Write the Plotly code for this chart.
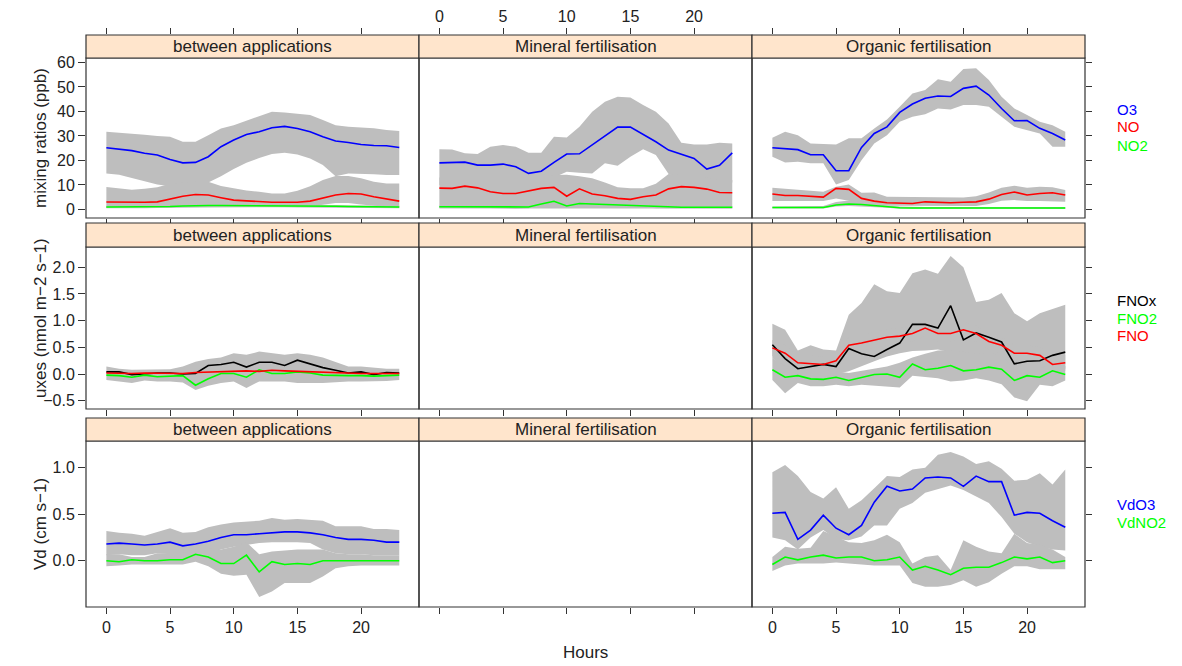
import plotly.graph_objects as go

# ---------------- data ----------------
hours = list(range(24))
panel_titles = ["between applications", "Mineral fertilisation", "Organic fertilisation"]
x_ticks = [0, 5, 10, 15, 20]

# Row 1: mixing ratios (ppb)
O3_BA = [25.2,24.6,24.0,22.9,22.2,20.4,19.0,19.2,21.5,25.6,28.3,30.6,31.7,33.3,33.9,33.0,31.7,29.7,27.9,27.3,26.5,26.1,26.0,25.3]
O3_BA_hi = [31.7,31.4,31.0,30.5,30.0,29.7,27.6,27.6,30.3,33.0,34.4,36.2,38.1,39.9,39.6,39.2,38.5,36.5,34.4,33.7,33.5,33.1,32.4,32.0]
O3_BA_lo = [14.7,14.2,12.8,11.5,10.2,9.5,9.5,10.0,11.0,13.5,16.5,19.0,21.0,22.6,23.1,22.4,20.8,18.1,13.5,14.7,14.7,14.4,14.0,14.1]
NO_BA = [3.0,2.9,2.7,2.9,3.1,4.2,5.4,6.1,5.9,4.8,3.8,3.5,3.1,2.9,2.9,2.9,3.4,4.8,5.9,6.5,6.3,5.2,4.4,3.4]
NO_BA_hi = [9.2,8.5,8.0,8.4,9.0,10.5,11.0,11.3,11.3,9.6,8.6,7.7,7.2,6.5,6.5,7.6,9.5,12.0,13.6,13.6,12.7,11.3,10.6,10.6]
NO_BA_lo = [0.6,0.6,0.6,0.6,0.7,0.8,1.0,1.0,1.0,1.0,1.0,1.0,1.0,1.0,1.0,1.0,1.2,2.0,2.6,2.6,2.0,1.5,1.0,0.8]
NO2_BA = [1.0,1.0,1.0,1.0,1.0,1.2,1.4,1.6,1.6,1.6,1.6,1.6,1.5,1.5,1.4,1.3,1.3,1.3,1.3,1.2,1.2,1.1,1.0,1.0]
NO2_BA_hi = [1.5,1.5,1.5,1.5,1.5,1.7,1.9,2.1,2.1,2.1,2.1,2.1,2.0,2.0,1.9,1.8,1.8,1.8,1.8,1.7,1.7,1.6,1.5,1.5]
NO2_BA_lo = [0.5,0.5,0.5,0.5,0.5,0.7,0.9,1.1,1.1,1.1,1.1,1.1,1.0,1.0,0.9,0.8,0.8,0.8,0.8,0.7,0.7,0.6,0.5,0.5]

O3_MF = [19.0,19.3,19.3,18.1,18.1,18.5,17.4,14.7,15.6,19.2,22.6,22.7,26.3,29.9,33.6,33.6,30.7,27.6,24.2,22.4,20.8,16.5,18.0,23.1]
O3_MF_hi = [24.6,24.5,22.9,22.6,25.6,26.3,25.6,23.1,23.1,29.7,29.4,33.7,39.9,43.9,46.0,45.7,42.6,39.9,35.1,27.2,26.5,26.5,27.2,26.9]
O3_MF_lo = [10.0,10.0,10.0,11.0,11.0,11.0,10.0,9.0,10.0,13.0,15.4,15.0,14.7,18.8,17.8,21.5,24.6,22.2,14.5,12.0,12.0,10.0,10.0,11.0]
NO_MF = [8.7,8.6,9.5,8.8,7.2,6.5,6.5,7.6,8.6,9.0,5.4,8.4,6.3,5.6,4.5,4.1,5.2,5.9,8.4,9.3,9.0,8.3,6.9,6.8]
NO_MF_hi = [13.0,13.0,13.0,13.0,13.0,13.0,13.0,13.0,13.0,14.0,14.2,13.5,12.7,11.0,9.0,8.6,8.6,10.5,14.5,14.0,14.0,13.0,12.0,12.0]
NO_MF_lo = [0.4,0.4,0.4,0.4,0.4,0.4,0.4,0.4,0.4,0.4,0.4,0.4,0.4,0.4,0.4,0.4,0.4,0.4,0.4,0.4,0.4,0.4,0.4,0.4]
NO2_MF = [1.1,1.1,1.1,1.1,1.1,1.1,0.8,1.0,2.2,3.3,1.4,2.4,2.2,2.0,1.6,1.6,1.4,1.0,0.9,0.9,0.9,0.9,0.9,0.9]
NO2_MF_hi = [1.6,1.6,1.6,1.6,1.6,1.6,1.3,1.5,2.7,3.8,1.9,2.9,2.7,2.5,2.1,2.1,1.9,1.5,1.4,1.4,1.4,1.4,1.4,1.4]
NO2_MF_lo = [0.6,0.6,0.6,0.6,0.6,0.6,0.3,0.5,1.7,2.8,0.9,1.9,1.7,1.5,1.1,1.1,0.9,0.5,0.4,0.4,0.4,0.4,0.4,0.4]

O3_OF = [25.2,24.8,24.4,22.3,22.3,15.8,15.8,25.3,31.0,33.7,39.6,43.0,45.4,46.3,46.1,49.4,50.3,46.7,41.2,36.2,36.3,33.1,31.0,28.3]
O3_OF_hi = [29.3,31.7,30.3,26.9,26.7,26.5,29.0,29.0,33.0,36.7,41.9,47.3,48.7,53.1,52.1,57.3,57.6,52.8,46.0,41.2,38.5,35.8,34.4,31.7]
O3_OF_lo = [21.5,19.2,19.5,18.8,18.8,10.2,12.0,20.1,26.9,30.3,35.8,37.8,38.8,41.2,40.8,42.6,42.6,41.9,37.8,33.7,32.4,31.0,25.6,25.6]
NO_OF = [6.3,5.7,5.7,5.2,5.0,8.6,8.2,4.5,3.4,2.7,2.4,2.4,3.1,2.9,2.7,2.9,3.1,4.2,6.1,7.1,5.9,6.5,6.8,5.9]
NO_OF_hi = [8.8,8.4,8.2,7.6,7.2,9.3,10.2,6.8,6.9,5.2,5.2,4.9,4.9,4.9,4.9,4.9,5.4,6.9,8.8,9.7,8.8,9.3,9.0,7.9]
NO_OF_lo = [3.4,3.4,3.4,3.4,3.4,4.5,3.5,2.4,1.8,1.5,1.4,1.4,1.4,1.4,1.4,1.4,1.4,2.2,3.5,3.8,3.4,3.4,3.4,3.1]
NO2_OF = [0.8,0.8,0.8,0.8,0.8,1.8,2.2,2.0,1.5,1.1,0.7,0.6,0.6,0.6,0.6,0.6,0.6,0.6,0.6,0.6,0.6,0.6,0.6,0.6]
NO2_OF_hi = [1.2,1.2,1.2,1.2,1.4,3.0,3.6,3.0,2.2,1.6,1.2,1.0,1.0,1.0,1.0,1.0,1.0,1.0,1.0,1.0,1.0,1.0,1.0,1.0]
NO2_OF_lo = [0.4,0.4,0.4,0.4,0.4,1.2,1.4,1.3,1.0,0.7,0.3,0.2,0.2,0.2,0.2,0.2,0.2,0.2,0.2,0.2,0.2,0.2,0.2,0.2]

# Row 2: fluxes (nmol m-2 s-1)
FNOx_BA = [0.04,0.04,-0.01,0.01,0.02,0.02,0.0,0.01,0.16,0.18,0.22,0.13,0.22,0.22,0.16,0.26,0.19,0.12,0.07,0.02,0.04,-0.01,0.03,0.02]
FNO_BA = [0.02,0.01,0.01,0.02,0.02,0.02,0.01,0.03,0.04,0.05,0.05,0.06,0.05,0.07,0.06,0.05,0.04,0.03,0.02,0.02,0.01,0.01,0.01,0.01]
FNO2_BA = [-0.02,-0.03,-0.06,-0.02,-0.05,-0.04,-0.03,-0.21,-0.09,0.01,0.01,-0.06,0.08,0.01,0.01,0.04,0.02,-0.02,-0.03,-0.03,-0.03,-0.04,-0.03,-0.02]
FLUX_BA_hi = [0.14,0.10,0.08,0.08,0.09,0.09,0.14,0.23,0.28,0.31,0.39,0.36,0.42,0.39,0.36,0.39,0.36,0.31,0.23,0.14,0.14,0.12,0.10,0.10]
FLUX_BA_lo = [-0.11,-0.14,-0.17,-0.12,-0.14,-0.14,-0.16,-0.30,-0.22,-0.17,-0.14,-0.26,-0.14,-0.14,-0.14,-0.17,-0.17,-0.17,-0.16,-0.14,-0.14,-0.14,-0.13,-0.11]

FNOx_OF = [0.55,0.29,0.10,0.14,0.18,0.14,0.48,0.38,0.33,0.46,0.58,0.93,0.93,0.86,1.28,0.64,0.77,0.69,0.60,0.19,0.24,0.25,0.35,0.41]
FNOx_OF_hi = [0.94,0.83,0.44,0.54,0.46,0.44,1.11,1.33,1.68,1.55,1.52,1.89,1.96,1.88,2.21,2.00,1.35,1.39,1.52,1.14,0.99,1.14,1.22,1.30]
FNOx_OF_lo = [0.30,0.10,-0.05,0.0,0.0,0.0,0.05,0.14,0.24,0.33,0.39,0.43,0.44,0.46,0.40,0.35,0.30,0.30,0.25,0.0,0.0,0.0,0.10,0.10]
FNO_OF = [0.49,0.39,0.21,0.19,0.18,0.25,0.54,0.58,0.63,0.69,0.71,0.76,0.86,0.76,0.76,0.83,0.76,0.61,0.54,0.39,0.39,0.35,0.18,0.21]
FNO_OF_hi = [0.64,0.54,0.36,0.34,0.33,0.40,0.69,0.73,0.78,0.84,0.86,0.91,1.01,0.91,0.91,0.98,0.91,0.76,0.69,0.54,0.54,0.50,0.33,0.36]
FNO_OF_lo = [0.34,0.24,0.06,0.04,0.03,0.10,0.39,0.43,0.48,0.54,0.56,0.61,0.71,0.61,0.61,0.68,0.61,0.46,0.39,0.24,0.24,0.20,0.03,0.06]
FNO2_OF = [0.08,-0.06,-0.03,-0.09,-0.10,-0.06,-0.12,-0.06,-0.01,0.0,-0.06,0.19,0.08,0.11,0.16,0.06,0.08,0.13,0.09,-0.12,-0.03,-0.06,0.06,-0.01]
FNO2_OF_hi = [0.30,0.15,0.10,0.05,0.05,0.05,0.02,0.06,0.10,0.14,0.21,0.31,0.38,0.44,0.45,0.42,0.38,0.40,0.35,0.10,0.10,0.10,0.20,0.15]
FNO2_OF_lo = [-0.11,-0.36,-0.17,-0.23,-0.23,-0.20,-0.23,-0.20,-0.21,-0.23,-0.25,-0.03,-0.05,-0.08,-0.14,-0.12,-0.08,-0.12,-0.19,-0.44,-0.51,-0.20,-0.23,-0.12]

# Row 3: deposition velocities (cm s-1)
VdO3_BA = [0.18,0.19,0.18,0.17,0.18,0.20,0.16,0.18,0.21,0.25,0.28,0.28,0.29,0.30,0.31,0.31,0.30,0.28,0.25,0.23,0.23,0.22,0.20,0.20]
VdO3_BA_hi = [0.32,0.30,0.29,0.27,0.31,0.35,0.30,0.31,0.36,0.39,0.41,0.42,0.43,0.46,0.44,0.45,0.44,0.43,0.37,0.37,0.37,0.34,0.34,0.33]
VdO3_BA_lo = [0.06,0.07,0.06,0.06,0.08,0.07,0.06,0.05,0.08,0.12,0.15,0.17,0.19,0.20,0.20,0.20,0.19,0.12,0.08,0.07,0.07,0.06,0.06,0.06]
VdNO2_BA = [0.0,-0.01,0.01,0.0,0.0,0.01,0.01,0.07,0.04,-0.03,-0.03,0.06,-0.12,-0.01,-0.04,-0.03,-0.04,0.0,0.0,0.0,0.0,0.0,0.0,0.0]
VdNO2_BA_hi = [0.07,0.07,0.04,0.04,0.08,0.08,0.08,0.13,0.13,0.12,0.15,0.20,0.07,0.10,0.11,0.12,0.12,0.12,0.08,0.07,0.07,0.06,0.06,0.06]
VdNO2_BA_lo = [-0.06,-0.05,-0.04,-0.04,-0.04,-0.04,-0.04,-0.01,-0.06,-0.14,-0.16,-0.15,-0.39,-0.33,-0.24,-0.24,-0.24,-0.17,-0.08,-0.06,-0.05,-0.05,-0.05,-0.05]

VdO3_OF = [0.51,0.52,0.23,0.33,0.49,0.35,0.28,0.38,0.63,0.80,0.75,0.77,0.89,0.90,0.89,0.80,0.91,0.85,0.85,0.49,0.52,0.51,0.43,0.36]
VdO3_OF_hi = [0.95,1.03,0.91,0.74,0.67,0.79,0.56,0.65,0.78,0.91,0.90,0.98,1.00,1.14,1.17,1.12,1.04,1.07,0.99,0.86,0.87,0.94,0.82,0.98]
VdO3_OF_lo = [0.25,0.22,0.12,0.25,0.33,0.23,0.22,0.26,0.38,0.38,0.56,0.62,0.73,0.77,0.81,0.76,0.69,0.62,0.47,0.29,0.20,0.15,0.12,0.11]
VdNO2_OF = [-0.04,0.04,0.01,0.04,0.06,0.03,0.04,0.04,0.0,0.01,0.04,-0.10,-0.06,-0.10,-0.15,-0.08,-0.07,-0.07,-0.02,0.04,0.02,0.04,-0.02,0.0]
VdNO2_OF_hi = [0.04,0.15,0.13,0.14,0.32,0.26,0.20,0.19,0.22,0.28,0.20,-0.03,0.04,0.06,-0.10,0.22,0.15,0.10,0.08,0.29,0.19,0.17,0.12,0.04]
VdNO2_OF_lo = [-0.11,-0.05,-0.03,-0.03,-0.03,-0.02,-0.03,-0.04,-0.05,-0.05,-0.05,-0.24,-0.28,-0.28,-0.26,-0.21,-0.28,-0.23,-0.14,-0.06,-0.06,-0.09,-0.09,-0.09]

row1_ticks = [0, 10, 20, 30, 40, 50, 60]
row2_ticks = [-0.5, 0.0, 0.5, 1.0, 1.5, 2.0]
row2_labels = ["\u22120.5", "0.0", "0.5", "1.0", "1.5", "2.0"]
row3_ticks = [-0.5, 0.0, 0.5, 1.0]
row3_labels = ["", "0.0", "0.5", "1.0"]

# ---------------- layout geometry (pixels) ----------------
W, H = 1182, 666
def px(x): return x / W
def py(y): return 1 - y / H

cols = [(86, 419), (419, 752), (752, 1085)]
# (plot top, plot bottom, strip top)
rows = [(58, 218, 35), (247, 409, 223), (441, 607, 418)]
XR = [-1.6, 24.55]
row_ranges = [[-3.5, 61.8], [-0.655, 2.38], [-0.497, 1.287]]

BLUE, RED, GREEN, BLACK, GREY = "#0000FF", "#FF0000", "#00FF00", "#000000", "#BEBEBE"
AX = "#333333"
FONT = "Liberation Sans, Arial, sans-serif"

fig = go.Figure()

def ax_id(r, c):
    k = r * 3 + c + 1
    return ("" if k == 1 else str(k))

def band(r, c, hi, lo):
    k = ax_id(r, c)
    fig.add_trace(go.Scatter(x=hours + hours[::-1], y=hi + lo[::-1], fill="toself",
                             fillcolor=GREY, line=dict(width=0), mode="lines",
                             hoverinfo="skip", showlegend=False,
                             xaxis="x" + k, yaxis="y" + k))

def line(r, c, y, color):
    k = ax_id(r, c)
    fig.add_trace(go.Scatter(x=hours, y=y, mode="lines", line=dict(color=color, width=1.6),
                             showlegend=False, xaxis="x" + k, yaxis="y" + k))

def dummy(r, c):
    k = ax_id(r, c)
    fig.add_trace(go.Scatter(x=[None], y=[None], mode="lines", showlegend=False,
                             hoverinfo="skip", xaxis="x" + k, yaxis="y" + k))

# Row 1
band(0, 0, O3_BA_hi, O3_BA_lo); band(0, 0, NO_BA_hi, NO_BA_lo); band(0, 0, NO2_BA_hi, NO2_BA_lo)
line(0, 0, NO2_BA, GREEN); line(0, 0, NO_BA, RED); line(0, 0, O3_BA, BLUE)
band(0, 1, O3_MF_hi, O3_MF_lo); band(0, 1, NO_MF_hi, NO_MF_lo); band(0, 1, NO2_MF_hi, NO2_MF_lo)
line(0, 1, NO2_MF, GREEN); line(0, 1, NO_MF, RED); line(0, 1, O3_MF, BLUE)
band(0, 2, O3_OF_hi, O3_OF_lo); band(0, 2, NO_OF_hi, NO_OF_lo); band(0, 2, NO2_OF_hi, NO2_OF_lo)
line(0, 2, NO2_OF, GREEN); line(0, 2, NO_OF, RED); line(0, 2, O3_OF, BLUE)
# Row 2
band(1, 0, FLUX_BA_hi, FLUX_BA_lo)
line(1, 0, FNOx_BA, BLACK); line(1, 0, FNO2_BA, GREEN); line(1, 0, FNO_BA, RED)
dummy(1, 1)
band(1, 2, FNOx_OF_hi, FNOx_OF_lo); band(1, 2, FNO_OF_hi, FNO_OF_lo); band(1, 2, FNO2_OF_hi, FNO2_OF_lo)
line(1, 2, FNOx_OF, BLACK); line(1, 2, FNO2_OF, GREEN); line(1, 2, FNO_OF, RED)
# Row 3
band(2, 0, VdO3_BA_hi, VdO3_BA_lo); band(2, 0, VdNO2_BA_hi, VdNO2_BA_lo)
line(2, 0, VdO3_BA, BLUE); line(2, 0, VdNO2_BA, GREEN)
dummy(2, 1)
band(2, 2, VdO3_OF_hi, VdO3_OF_lo); band(2, 2, VdNO2_OF_hi, VdNO2_OF_lo)
line(2, 2, VdO3_OF, BLUE); line(2, 2, VdNO2_OF, GREEN)

tickfont = dict(family=FONT, size=16, color="#222")
layout = {}
shapes = []
annotations = []
for r, (ptop, pbot, stop) in enumerate(rows):
    yr = row_ranges[r]
    if r == 0:
        # domain includes strip so mirrored ticks sit on strip top
        upp = (yr[1] - yr[0]) / (pbot - ptop)
        yr = [yr[0], yr[1] + (ptop - stop) * upp]
        ydom = [py(pbot), py(stop)]
    else:
        ydom = [py(pbot), py(ptop)]
    tv = [row1_ticks, row2_ticks, row3_ticks][r]
    tt = [[str(v) for v in row1_ticks], row2_labels, row3_labels][r]
    for c, (x0, x1) in enumerate(cols):
        k = ax_id(r, c)
        xa = dict(domain=[px(x0), px(x1)], range=XR, anchor="y" + k,
                  tickvals=x_ticks, ticktext=[str(v) for v in x_ticks],
                  ticks="outside", ticklen=6, tickwidth=1, tickcolor=AX,
                  showgrid=False, zeroline=False, showline=False,
                  tickfont=tickfont)
        if r == 0:
            xa.update(side="top", mirror="ticks", showticklabels=(c == 1))
        else:
            xa.update(side="bottom", showticklabels=(r == 2 and c != 1))
        ya = dict(domain=ydom, range=yr, anchor="x" + k, tickvals=tv, ticktext=tt,
                  showgrid=False, zeroline=False, showline=False, tickfont=tickfont,
                  tickcolor=AX, tickwidth=1)
        if c == 0:
            ya.update(side="left", ticks="outside", ticklen=7, showticklabels=True)
        elif c == 2:
            ya.update(side="right", ticks="outside", ticklen=6, showticklabels=False)
        else:
            ya.update(ticks="", showticklabels=False)
        layout["xaxis" + k] = xa
        layout["yaxis" + k] = ya
        # panel frame
        shapes.append(dict(type="rect", xref="paper", yref="paper",
                           x0=px(x0), x1=px(x1), y0=py(pbot), y1=py(ptop),
                           line=dict(color=AX, width=1.2), fillcolor="rgba(0,0,0,0)"))
        # strip
        shapes.append(dict(type="rect", xref="paper", yref="paper",
                           x0=px(x0), x1=px(x1), y0=py(ptop), y1=py(stop),
                           line=dict(color=AX, width=1.2), fillcolor="#FFE5CC"))
        annotations.append(dict(text=panel_titles[c], xref="paper", yref="paper",
                                x=px((x0 + x1) / 2), y=py((ptop + stop) / 2),
                                showarrow=False, xanchor="center", yanchor="middle",
                                font=dict(family=FONT, size=17, color="#222")))

# y-axis titles
ytitles = [("mixing ratios (ppb)", 138), ("uxes (nmol m\u22122 s\u22121)", 318), ("Vd (cm s\u22121)", 524)]
for txt, yc in ytitles:
    annotations.append(dict(text=txt, xref="paper", yref="paper", x=px(40), y=py(yc),
                            textangle=-90, showarrow=False, xanchor="center", yanchor="middle",
                            font=dict(family=FONT, size=17, color="#222")))
# x-axis title
annotations.append(dict(text="Hours", xref="paper", yref="paper", x=px(585.5), y=py(652),
                        showarrow=False, xanchor="center", yanchor="middle",
                        font=dict(family=FONT, size=17, color="#222")))

# legend keys (text) per row
legend_rows = [
    [("O3", BLUE, 109), ("NO", RED, 127), ("NO2", GREEN, 145)],
    [("FNOx", BLACK, 300), ("FNO2", GREEN, 318), ("FNO", RED, 336)],
    [("VdO3", BLUE, 504), ("VdNO2", GREEN, 522)],
]
for entries in legend_rows:
    for txt, col, yc in entries:
        annotations.append(dict(text=txt, xref="paper", yref="paper", x=px(1116), y=py(yc),
                                showarrow=False, xanchor="left", yanchor="middle",
                                borderpad=0,
                                font=dict(family=FONT, size=15, color=col)))

fig.update_layout(**layout)
fig.update_layout(width=W, height=H, margin=dict(l=0, r=0, t=0, b=0),
                  paper_bgcolor="white", plot_bgcolor="rgba(0,0,0,0)",
                  shapes=shapes, annotations=annotations, showlegend=False,
                  font=dict(family=FONT, color="#222"))
fig.write_html("out.html")
